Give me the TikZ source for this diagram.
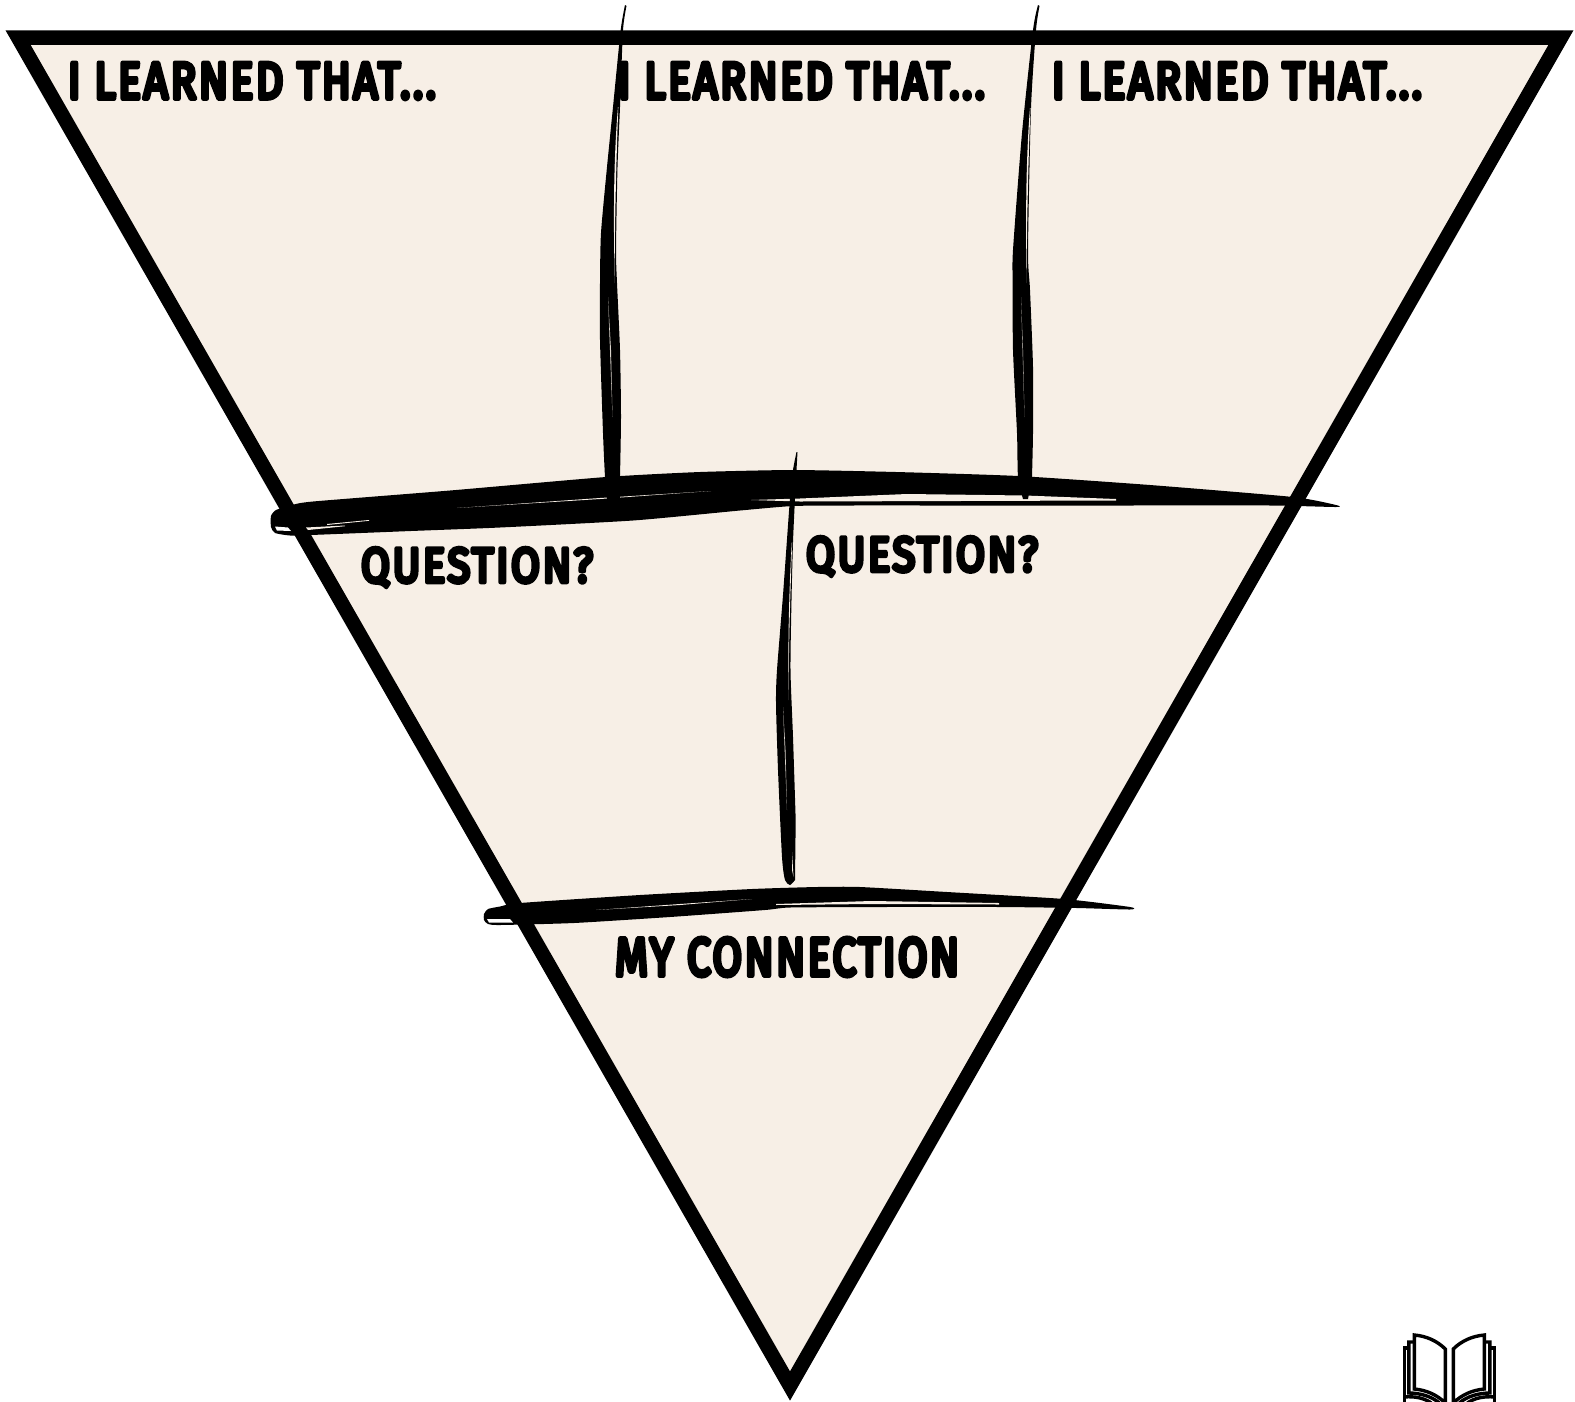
\documentclass[tikz,border=0pt]{standalone}
\usepackage{fontspec}
\usepackage{graphicx}
\setmainfont{Fira Sans}[LetterSpace=6]
\definecolor{cream}{HTML}{F7EFE6}
\definecolor{grain}{HTML}{D8D2CA}
\newcommand{\lab}[6]{\node[lbl] (#1) at (#2,#3) {\resizebox*{#4pt}{#5pt}{\special{pdf:code 1 j 1 J 0.95 w 2 Tr}#6\special{pdf:code 0 Tr 0 J 0 j}}};}
\tikzset{
  lbl/.style={anchor=north west,inner sep=0pt,outer sep=0pt,text=black},
  funnel/.style={draw=black,fill=cream,line width=14.5pt,line join=miter,miter limit=10},
  slit/.style={fill=cream},
  gap/.style={fill=white},
  thinslit/.style={fill=grain},
  bookline/.style={draw=black,line width=3.4pt,line join=miter,line cap=butt}
}
\begin{document}
\begin{tikzpicture}[x=1pt,y=-1pt]
\useasboundingbox (0,0) rectangle (1575,1401);
\clip (0,0) rectangle (1575,1401);
% funnel
\path[funnel] (18,37.5) -- (1561,37.5) -- (790,1386) -- cycle;
% upper horizontal brush stroke
\fill[black] plot[smooth cycle,tension=0.35] coordinates {(271,516) (276,510) (292,505) (313,501.5) (450,490.5) (606,477) (700,472) (793,470) (896,472) (1018,476) (1150,485) (1293,497) (1336,505) (1336,507) (1271,505.5) (1114,505.5) (950,505.5) (850,505.5) (793,506) (740,510.5) (633,520.5) (500,527.5) (411,531) (311,535) (290,535.5) (275,533) (271,527)};
\fill[slit] (751,500) -- (800,498.5) -- (907,494) -- (1025,495.5) -- (1116,499) -- (1116,500.5) -- (800,501.5) -- cycle;
\fill[slit] (457,508) -- (600,498) -- (711,491) -- (600,499) -- cycle;
\fill[slit] (327,524) -- (369,520) -- (369,520.8) -- (327,525) -- cycle;
\fill[gap] (275,526.5) -- (288,527.5) -- (291,531) -- (277,530.5) -- cycle;
\fill[slit] (306,527.5) -- (345,525.5) -- (345,526.2) -- (308,530) -- cycle;
% lower horizontal brush stroke
\fill[black] plot[smooth cycle,tension=0.35] coordinates {(484,914) (488,909) (500,906.5) (520,903) (640,895) (752,889) (817,887) (860,887) (947,892) (1064,899) (1130,907) (1130,909.5) (1077,908) (1000,907) (880,907) (790,907.5) (765,910) (670,917) (574,923) (500,925) (488,924) (484,920)};
\fill[slit] (776,904) -- (871,901) -- (999,903) -- (999,904.5) -- (871,904) -- (776,905) -- cycle;
\fill[slit] (596,910) -- (680,904) -- (752,899) -- (680,905) -- cycle;
\fill[gap] (487,919) -- (510,919) -- (513,922.5) -- (489,922.5) -- cycle;
% vertical 1
\fill[black] plot[smooth,tension=0.4] coordinates {(625,5) (620.7,30) (613,107) (607,167) (601,233) (600,283) (600,340) (603,433) (605,477) (607,499)} -- (620,499) -- plot[smooth,tension=0.4] coordinates {(620,477) (621,417) (620,350) (617,283) (616,250) (617.5,167) (620,107) (623,30) (626.5,6)} -- cycle;
\fill[slit] (618.3,107) .. controls (616,167) and (614.6,233) .. (614.6,283) .. controls (614,240) and (612.5,170) .. (618,107) -- cycle;
\fill[thinslit] (608,297) -- (612.5,417) -- (611,350) -- cycle;
% vertical 2
\fill[black] plot[smooth,tension=0.4] coordinates {(1038,5) (1033,30) (1022,133) (1013,250) (1012.7,283) (1013,350) (1017,433) (1018,477) (1023,499)} -- (1028,499) -- plot[smooth,tension=0.4] coordinates {(1032,477) (1033,433) (1033,367) (1030,290) (1028,250) (1031,108) (1036,30) (1039.5,6)} -- cycle;
\fill[slit] (1030.5,108) .. controls (1028,167) and (1026.7,233) .. (1026.7,283) .. controls (1026,240) and (1025,170) .. (1030,108) -- cycle;
\fill[thinslit] (1021,297) -- (1024.5,417) -- (1023,350) -- cycle;
% vertical 3
\fill[black] plot[smooth,tension=0.4] coordinates {(796.5,452) (793,470) (790,498) (783,595) (777,670) (776,703) (778,770) (782,857) (785,880) (790,885) (795,880)} -- plot[smooth,tension=0.4] coordinates {(795.7,820) (793,737) (790.5,670) (791.5,600) (793,542) (795,498) (797.5,452)} -- cycle;
\fill[slit] (792.2,542) .. controls (790,600) and (788.6,650) .. (788.6,700) .. controls (788,650) and (788.5,600) .. (791.8,542) -- cycle;
\fill[thinslit] (783,707) -- (787,810) -- (785.5,750) -- cycle;
\fill[slit] (792,852) -- (793.5,877) -- (792,870) -- cycle;
% labels
\lab{learnA}{68}{63}{368}{36}{I LEARNED THAT...}
\lab{learnB}{618}{63}{367}{36}{I LEARNED THAT...}
\lab{learnC}{1052}{63}{370}{36}{I LEARNED THAT...}
\lab{questA}{361}{548}{232}{39}{QUESTION?}
\lab{questB}{806}{537}{232}{39}{QUESTION?}
\lab{connect}{615}{938}{344}{38}{MY CONNECTION}
% book icon
\begin{scope}[shift={(1449.3,0)}]
\foreach \s in {1,-1}{
  \begin{scope}[xscale=\s]
    \draw[bookline] (-4,1403) -- (-4,1349) .. controls (-12,1341) and (-23,1336) .. (-35,1335) -- (-35,1389) .. controls (-23,1390) and (-12,1395) .. (-4,1403);
    \draw[bookline] (-35,1342) -- (-40.5,1342) -- (-40.5,1393) .. controls (-30,1393) and (-18,1396) .. (-10,1403);
    \draw[bookline] (-40.5,1348) -- (-45,1348) -- (-45,1403);
    \draw[bookline] (-45,1397) .. controls (-35,1396) and (-25,1398) .. (-18,1403);
  \end{scope}
}
\end{scope}
\end{tikzpicture}
\end{document}
